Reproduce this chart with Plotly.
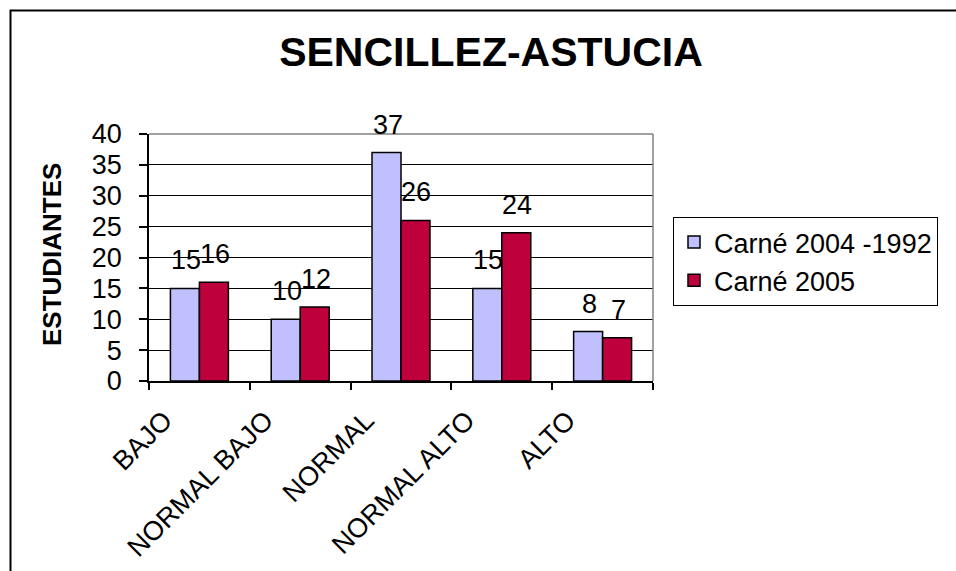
import plotly.graph_objects as go

categories = ["BAJO", "NORMAL BAJO", "NORMAL", "NORMAL ALTO", "ALTO"]
serie_2004_1992 = [15, 10, 37, 15, 8]
serie_2005 = [16, 12, 26, 24, 7]
series_names = ["Carné 2004 -1992", "Carné 2005"]
y_ticks = [0, 5, 10, 15, 20, 25, 30, 35, 40]

FONT = "Liberation Sans, Arial, sans-serif"
BLUE = "rgb(192,192,255)"
RED = "rgb(190,0,60)"

fig = go.Figure()
fig.add_trace(go.Bar(x=categories, y=serie_2004_1992, name=series_names[0],
                     marker=dict(color=BLUE, line=dict(color="black", width=1.5))))
fig.add_trace(go.Bar(x=categories, y=serie_2005, name=series_names[1],
                     marker=dict(color=RED, line=dict(color="black", width=1.5))))

# plot area geometry (px)
L, R, T, B = 149, 303, 134, 190
W = 956 - L - R
bargap = 0.425
cat_w = W / len(categories)
bar_w = cat_w * (1 - bargap) / 2

annotations = []
for vals, sign in ((serie_2004_1992, -1), (serie_2005, 1)):
    for c, v in zip(categories, vals):
        annotations.append(dict(x=c, y=v, xref="x", yref="y", text=str(v), showarrow=False,
                                xanchor="center", yanchor="bottom", xshift=sign * bar_w / 2 + 1,
                                yshift=11, font=dict(family=FONT, size=27, color="black")))

annotations.append(dict(text="<b>ESTUDIANTES</b>", textangle=-90, xref="paper", yref="paper",
                        x=(52 - L) / W, y=0.51, xanchor="center", yanchor="middle",
                        showarrow=False, font=dict(family=FONT, size=26, color="black")))

fig.update_layout(
    width=956, height=571,
    margin=dict(l=L, r=R, t=T, b=B, autoexpand=False),
    paper_bgcolor="white", plot_bgcolor="white",
    barmode="group", bargap=bargap, bargroupgap=0,
    title=dict(text="<b>SENCILLEZ-ASTUCIA</b>", x=491 / 956, xref="container", xanchor="center",
               y=1 - 52 / 571, yref="container", yanchor="middle",
               font=dict(family=FONT, size=41, color="black")),
    font=dict(family=FONT, size=27, color="black"),
    showlegend=True,
    legend=dict(x=(673 - L) / W, y=(381 - 217) / 247, xanchor="left", yanchor="top",
                bordercolor="black", borderwidth=1, bgcolor="white",
                entrywidth=300, entrywidthmode="pixels",
                font=dict(family=FONT, size=27, color="black"), tracegroupgap=0),
    annotations=annotations,
    shapes=[
        dict(type="rect", xref="paper", yref="paper", x0=(10.5 - L) / W, x1=1.8,
             y0=-1.2, y1=(381 - 10.5) / 247, line=dict(color="black", width=2), layer="below"),
        dict(type="line", xref="paper", yref="paper", x0=0, x1=1, y0=1, y1=1,
             line=dict(color="#808080", width=1.5), layer="above"),
        dict(type="line", xref="paper", yref="paper", x0=1, x1=1, y0=0, y1=1,
             line=dict(color="#808080", width=1.5), layer="above"),
    ],
)
fig.update_xaxes(showline=True, linecolor="black", linewidth=1.5, ticks="outside",
                 tickson="boundaries", ticklen=7, tickcolor="black", tickwidth=1.5,
                 tickangle=-45, tickfont=dict(family=FONT, size=27, color="black"),
                 ticklabelshift=-35, ticklabelstandoff=11,
                 showgrid=False, automargin=False)
fig.update_yaxes(range=[0, 40], tickvals=y_ticks, showline=True, linecolor="black",
                 linewidth=1.5, ticks="outside", ticklen=8, tickcolor="black", tickwidth=1.5,
                 showgrid=True, gridcolor="black", gridwidth=1, zeroline=False,
                 ticklabelstandoff=12,
                 tickfont=dict(family=FONT, size=27, color="black"), automargin=False)

fig.write_html("out.html", config={"displayModeBar": False},
               post_script="document.body.style.margin='0px';")
